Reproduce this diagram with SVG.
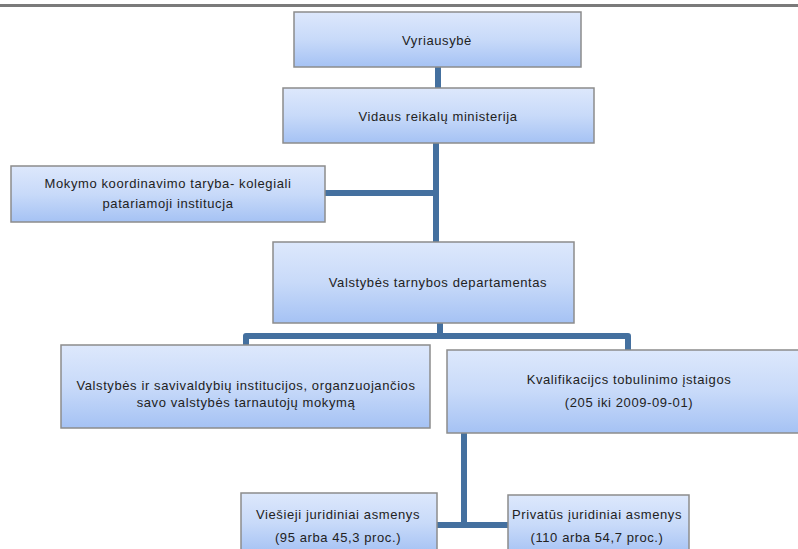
<svg xmlns="http://www.w3.org/2000/svg" width="798" height="549" viewBox="0 0 798 549">
<defs>
<linearGradient id="g" x1="0" y1="0" x2="0" y2="1">
<stop offset="0" stop-color="#dde8fc"/>
<stop offset="0.5" stop-color="#c8daf9"/>
<stop offset="1" stop-color="#a5c2f4"/>
</linearGradient>
</defs>
<style>
.box{fill:url(#g);stroke:#8c8c8c;stroke-width:1.5}
text{font-family:"Liberation Sans",Arial,sans-serif;font-size:13px;letter-spacing:0.6px;fill:#222222;text-anchor:middle}
.c{fill:none;stroke:#44709f;stroke-width:6;stroke-linejoin:round;stroke-linecap:butt}
</style>
<rect width="798" height="549" fill="#ffffff"/>
<line x1="0" y1="5.5" x2="798" y2="5.5" stroke="#7a7a7a" stroke-width="3"/>
<g id="connectors">
<path class="c" d="M438 67 V88"/>
<path class="c" d="M436 143 V242"/>
<path class="c" d="M325 193 H436"/>
<path class="c" d="M440 323 V336 M246 345 V336 H628 V350"/>
<path class="c" d="M464 433 V525 M437 525 H508"/>
</g>
<g id="n1"><rect class="box" x="294" y="12" width="287" height="55"/><text x="437" y="45">Vyriausybė</text></g>
<g id="n2"><rect class="box" x="283" y="88" width="311" height="55"/><text x="438" y="121">Vidaus reikalų ministerija</text></g>
<g id="n3"><rect class="box" x="11" y="166" width="314" height="56"/><text x="168" y="188">Mokymo koordinavimo taryba-  kolegiali</text><text x="168" y="208">patariamoji institucja</text></g>
<g id="n4"><rect class="box" x="273" y="242" width="301" height="81"/><text x="438" y="287">Valstybės tarnybos departamentas</text></g>
<g id="n5"><rect class="box" x="61" y="345" width="369" height="83"/><text x="246" y="390">Valstybės ir savivaldybių institucijos, organzuojančios</text><text x="246" y="407">savo valstybės tarnautojų mokymą</text></g>
<g id="n6"><rect class="box" x="447" y="350" width="352" height="83"/><text x="629" y="384">Kvalifikacijcs tobulinimo įstaigos</text><text x="629" y="407">(205 iki 2009-09-01)</text></g>
<g id="n7"><rect class="box" x="241" y="493" width="196" height="60"/><text x="338" y="519">Viešieji juridiniai asmenys</text><text x="338" y="542">(95 arba 45,3 proc.)</text></g>
<g id="n8"><rect class="box" x="508" y="495" width="181" height="60"/><text x="597" y="519">Privatūs įuridiniai asmenys</text><text x="597" y="542">(110  arba 54,7 proc.)</text></g>
</svg>
